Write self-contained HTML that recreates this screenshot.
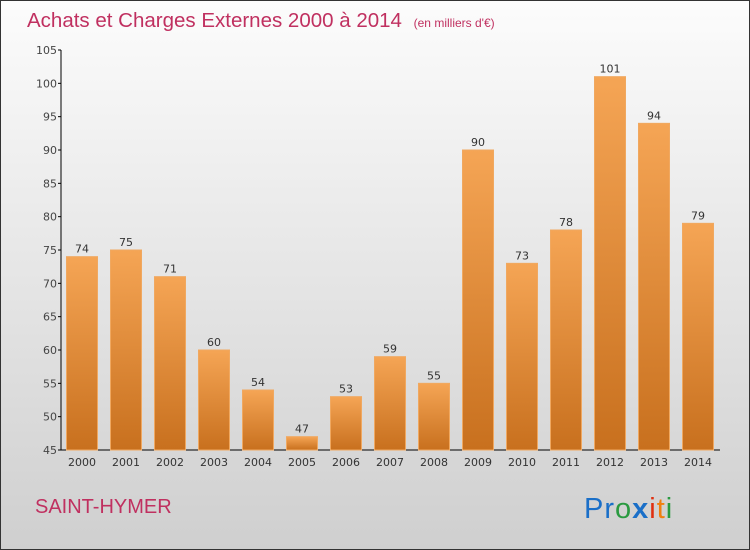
<!DOCTYPE html>
<html><head><meta charset="utf-8"><style>
body{margin:0}
svg{display:block;font-family:"DejaVu Sans","Liberation Sans",sans-serif}
</style></head><body>
<svg width="750" height="550">
<defs>
<linearGradient id="bg" x1="0" y1="0" x2="0" y2="1"><stop offset="0" stop-color="#fcfcfc"/><stop offset="1" stop-color="#cfcfcf"/></linearGradient>
<linearGradient id="bar" x1="0" y1="0" x2="0" y2="1"><stop offset="0" stop-color="#f5a555"/><stop offset="1" stop-color="#c8701e"/></linearGradient>
</defs>
<rect x="0.5" y="0.5" width="749" height="549" fill="url(#bg)" stroke="#333"/>
<text x="27" y="27" font-size="20.5" fill="#c03060" style="font-family:'Liberation Sans',sans-serif">Achats et Charges Externes 2000 à 2014 <tspan font-size="12" dx="6">(en milliers d'€)</tspan></text>
<g id="axes"></g>
<g id="bars"></g>
<text x="35" y="513" font-size="20" fill="#c03060" style="font-family:'Liberation Sans',sans-serif">SAINT-HYMER</text>
<text x="584" y="518" font-size="29" letter-spacing="1" style="font-family:'Liberation Sans',sans-serif"><tspan fill="#1a6fc8">Pr</tspan><tspan fill="#2a9a40">o</tspan><tspan fill="#1a6fc8" font-weight="bold">x</tspan><tspan fill="#e03010">i</tspan><tspan fill="#f08010">t</tspan><tspan fill="#2a9a40">i</tspan></text>
</svg>
<script>
const years=["2000","2001","2002","2003","2004","2005","2006","2007","2008","2009","2010","2011","2012","2013","2014"];
const values=[74,75,71,60,54,47,53,59,55,90,73,78,101,94,79];
const yTicks=[45,50,55,60,65,70,75,80,85,90,95,100,105];
const NS="http://www.w3.org/2000/svg";
const y=v=>450-(v-45)*(400/60);
const x=i=>82+i*44;
function mk(t,a,p){const e=document.createElementNS(NS,t);for(const k in a)e.setAttribute(k,a[k]);p.appendChild(e);return e;}
const ax=document.getElementById('axes'),bg=document.getElementById('bars');
const yl=mk('line',{x1:61,y1:50,x2:61,y2:450,stroke:'#000'},ax);


const xl=mk('line',{x1:61,y1:450,x2:720,y2:450,stroke:'#000'},ax);


yTicks.forEach(t=>{
 mk('line',{x1:58,x2:61,y1:y(t),y2:y(t),stroke:'#000'},ax);
 const tx=mk('text',{x:57,y:y(t)+4,'text-anchor':'end','font-size':11,fill:'#444'},ax);
 tx.textContent=t;
 
 
});
years.forEach((yr,i)=>{
 const v=values[i];
 const r=mk('rect',{x:x(i)-15.5,y:y(v),width:31,height:450-y(v),fill:'url(#bar)',stroke:'#f0a860','stroke-width':1},bg);
 
 
 const vl=mk('text',{x:x(i),y:y(v)-4,'text-anchor':'middle','font-size':11,fill:'#333'},bg);
 vl.textContent=v;
 
 
 const xt=mk('text',{x:x(i),y:466,'text-anchor':'middle','font-size':11,fill:'#333'},ax);
 xt.textContent=yr;
 
 
});
</script>
</body></html>
